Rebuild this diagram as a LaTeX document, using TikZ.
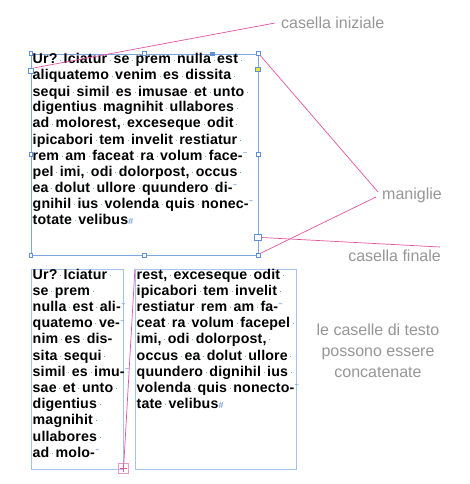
\documentclass[tikz,border=0pt]{standalone}
\usepackage{fontspec}
\setmainfont{Liberation Sans}
\newfontfamily\bodyf{Liberation Sans Bold}[LetterSpace=1]
\definecolor{fblue}{RGB}{125,168,222}
\definecolor{flight}{RGB}{165,195,232}
\definecolor{hblue}{RGB}{95,145,212}
\definecolor{pinkc}{RGB}{226,84,162}
\definecolor{grayc}{RGB}{150,150,150}
\definecolor{dotc}{RGB}{120,162,222}
\definecolor{yel}{RGB}{238,228,60}
\newlength\wspw \setlength\wspw{6.3pt}
\newcommand\ws{\hbox to \wspw{\hss\textcolor{dotc}{\rule[0.24em]{0.9pt}{0.9pt}}\hss}}
\newcommand\hmk{\hbox to 0pt{\kern0.5pt\textcolor{dotc}{\raisebox{0.32em}{\fontsize{7}{7}\selectfont\char"7E}}\hss}}
\newcommand\eos{\textcolor{dotc}{\fontsize{9}{9}\selectfont\itshape\#}}
\begin{document}
\begin{tikzpicture}[x=1pt,y=-1pt,
  body/.style={anchor=base west, inner sep=0pt, font=\bodyf\fontsize{14.2}{16}\selectfont},
  lab/.style={inner sep=0pt, text=grayc, font=\fontsize{16}{21}\selectfont},
  hdl/.style={draw=hblue, fill=white, line width=0.6pt, minimum size=3.6pt, inner sep=0pt},
  port/.style={draw=hblue, fill=white, line width=0.7pt, minimum size=5.5pt, inner sep=0pt},
  pline/.style={draw=pinkc, line width=0.7pt}]
\useasboundingbox (0,0) rectangle (470,484);
\fill[white] (0,0) rectangle (470,484);
% top frame
\node[draw=fblue, line width=0.8pt, minimum width=227pt, minimum height=201pt, inner sep=0pt] (top) at (144.5,154.5) {};
% bottom frames
\node[draw=flight, line width=1.2pt, minimum width=92.5pt, minimum height=200pt, inner sep=0pt] (bl) at (77.5,369.5) {};
\node[draw=flight, line width=1.2pt, minimum width=161pt, minimum height=200pt, inner sep=0pt] (br) at (216,369.5) {};
% top text
\node[body] (t1) at (32.5,64) {Ur?\ws Iciatur\ws se\ws prem\ws nulla\ws est\ws};
\node[body] (t2) at (32.5,80) {aliquatemo\ws venim\ws es\ws dissita\ws};
\node[body] (t3) at (32.5,96) {sequi\ws simil\ws es\ws imusae\ws et\ws unto\ws};
\node[body] (t4) at (32.5,112) {digentius\ws magnihit\ws ullabores\ws};
\node[body] (t5) at (32.5,128) {ad\ws molorest,\ws exceseque\ws odit\ws};
\node[body] (t6) at (32.5,144) {ipicabori\ws tem\ws invelit\ws restiatur\ws};
\node[body] (t7) at (32.5,160) {rem\ws am\ws faceat\ws ra\ws volum\ws face-\hmk};
\node[body] (t8) at (32.5,176) {pel\ws imi,\ws odi\ws dolorpost,\ws occus\ws};
\node[body] (t9) at (32.5,192) {ea\ws dolut\ws ullore\ws quundero\ws di-\hmk};
\node[body] (t10) at (32.5,208) {gnihil\ws ius\ws volenda\ws quis\ws nonec-\hmk};
\node[body] (t11) at (32.5,224) {totate\ws velibus\eos};
% bottom left text
\node[body] (l1) at (32.5,279) {Ur?\ws Iciatur\ws};
\node[body] (l2) at (32.5,295.2) {se\ws prem\ws};
\node[body] (l3) at (32.5,311.4) {nulla\ws est\ws ali-\hmk};
\node[body] (l4) at (32.5,327.6) {quatemo\ws ve-\hmk};
\node[body] (l5) at (32.5,343.8) {nim\ws es\ws dis-};
\node[body] (l6) at (32.5,360) {sita\ws sequi\ws};
\node[body] (l7) at (32.5,376.2) {simil\ws es\ws imu-\hmk};
\node[body] (l8) at (32.5,392.4) {sae\ws et\ws unto\ws};
\node[body] (l9) at (32.5,408.6) {digentius\ws};
\node[body] (l10) at (32.5,424.8) {magnihit\ws};
\node[body] (l11) at (32.5,441) {ullabores\ws};
\node[body] (l12) at (32.5,457.2) {ad\ws molo-\hmk};
% bottom right text
\node[body] (r1) at (136.5,279) {rest,\ws exceseque\ws odit\ws};
\node[body] (r2) at (136.5,295.2) {ipicabori\ws tem\ws invelit\ws};
\node[body] (r3) at (136.5,311.4) {restiatur\ws rem\ws am\ws fa-\hmk};
\node[body] (r4) at (136.5,327.6) {ceat\ws ra\ws volum\ws facepel\ws};
\node[body] (r5) at (136.5,343.8) {imi,\ws odi\ws dolorpost,\ws};
\node[body] (r6) at (136.5,360) {occus\ws ea\ws dolut\ws ullore\ws};
\node[body] (r7) at (136.5,376.2) {quundero\ws dignihil\ws ius\ws};
\node[body] (r8) at (136.5,392.4) {volenda\ws quis\ws nonecto-\hmk};
\node[body] (r9) at (136.5,408.6) {tate\ws velibus\eos};
% labels
\node[lab, anchor=west] (lini) at (281,23) {casella iniziale};
\node[lab, anchor=west] (lman) at (382,195) {maniglie};
\node[lab, anchor=east] (lfin) at (441,256) {casella finale};
\node[lab, align=center] (lcon) at (378,350.5) {le caselle di testo\\possono essere\\concatenate};
\coordinate (cini) at (275,23);
\coordinate (cman1) at (378,192);
\coordinate (cman2) at (376,197);
\coordinate (cfin) at (440,247);
% handles
\node[hdl] (hnw) at (top.north west) {};
\node[hdl] (hn) at (top.north) {};
\node[hdl] (hne) at (top.north east) {};
\node[hdl] (hw) at (top.west) {};
\node[hdl] (he) at (top.east) {};
\node[hdl] (hsw) at (top.south west) {};
\node[hdl] (hs) at (top.south) {};
\node[hdl] (hse) at (top.south east) {};
\node[hdl, fill=hblue] (href) at (212,54) {};
\node[hdl, fill=yel, minimum size=4.5pt] (hyel) at (258,69.5) {};
\node[port] (pin) at (31,71) {};
\node[port, minimum size=6.5pt] (pout) at (258,237.5) {};
% thread plus
\node[draw=pinkc!60, line width=0.8pt, minimum size=10.5pt, inner sep=0pt] (plus) at (123.5,468.5) {};
\draw[pinkc, line width=1pt] ([xshift=-3.5pt]plus.center) -- ([xshift=3.5pt]plus.center)
  ([yshift=-3.5pt]plus.center) -- ([yshift=3.5pt]plus.center);
% pink connectors
\draw[pline] (pin.north east) -- (cini);
\draw[pline] (hne.south east) -- (cman1);
\draw[pline] (hse.north east) -- (cman2);
\draw[pline] (pout.east) -- (cfin);
\draw[pline] ([yshift=-1pt]plus.center) -- (br.north west);
\end{tikzpicture}
\end{document}
